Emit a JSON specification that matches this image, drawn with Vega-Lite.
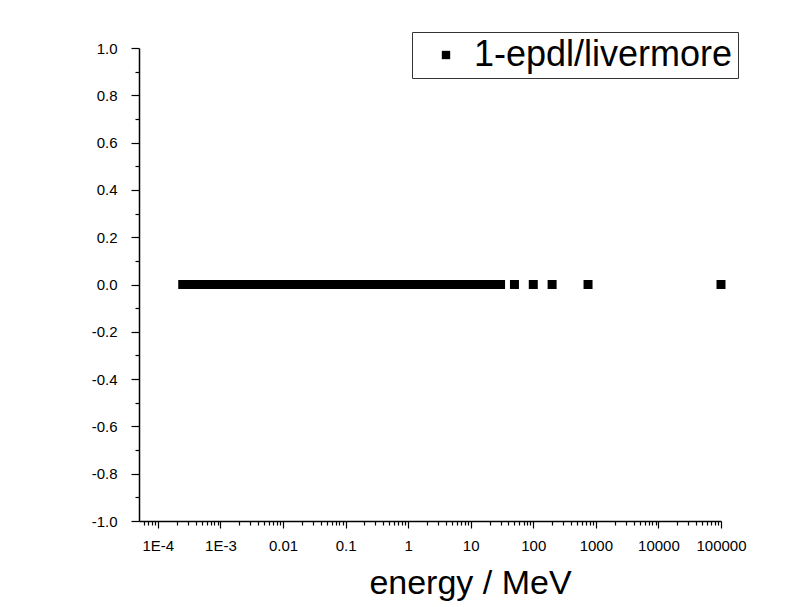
{
  "$schema": "https://vega.github.io/schema/vega-lite/v6.json",
  "width": 582,
  "height": 473,
  "autosize": {"type": "none"},
  "padding": {"left": 139, "top": 48, "right": 80, "bottom": 86},
  "background": "white",
  "config": {
    "font": "Liberation Sans",
    "view": {"stroke": null},
    "axis": {"grid": false, "domainColor": "black", "tickColor": "black", "labelColor": "black", "titleColor": "black", "labelFont": "Liberation Sans", "titleFont": "Liberation Sans", "domainWidth": 1.5, "tickWidth": 1.2}
  },
  "data": {"values": [
    {"energy": 0.00025, "value": 0, "series": "1-epdl/livermore"},
    {"energy": 0.0003, "value": 0, "series": "1-epdl/livermore"},
    {"energy": 0.00035, "value": 0, "series": "1-epdl/livermore"},
    {"energy": 0.0004, "value": 0, "series": "1-epdl/livermore"},
    {"energy": 0.00045, "value": 0, "series": "1-epdl/livermore"},
    {"energy": 0.0005, "value": 0, "series": "1-epdl/livermore"},
    {"energy": 0.00055, "value": 0, "series": "1-epdl/livermore"},
    {"energy": 0.0006, "value": 0, "series": "1-epdl/livermore"},
    {"energy": 0.0007, "value": 0, "series": "1-epdl/livermore"},
    {"energy": 0.0008, "value": 0, "series": "1-epdl/livermore"},
    {"energy": 0.0009, "value": 0, "series": "1-epdl/livermore"},
    {"energy": 0.001, "value": 0, "series": "1-epdl/livermore"},
    {"energy": 0.0011, "value": 0, "series": "1-epdl/livermore"},
    {"energy": 0.0012, "value": 0, "series": "1-epdl/livermore"},
    {"energy": 0.0014, "value": 0, "series": "1-epdl/livermore"},
    {"energy": 0.0016, "value": 0, "series": "1-epdl/livermore"},
    {"energy": 0.0018, "value": 0, "series": "1-epdl/livermore"},
    {"energy": 0.002, "value": 0, "series": "1-epdl/livermore"},
    {"energy": 0.0025, "value": 0, "series": "1-epdl/livermore"},
    {"energy": 0.003, "value": 0, "series": "1-epdl/livermore"},
    {"energy": 0.0035, "value": 0, "series": "1-epdl/livermore"},
    {"energy": 0.004, "value": 0, "series": "1-epdl/livermore"},
    {"energy": 0.005, "value": 0, "series": "1-epdl/livermore"},
    {"energy": 0.006, "value": 0, "series": "1-epdl/livermore"},
    {"energy": 0.007, "value": 0, "series": "1-epdl/livermore"},
    {"energy": 0.008, "value": 0, "series": "1-epdl/livermore"},
    {"energy": 0.009, "value": 0, "series": "1-epdl/livermore"},
    {"energy": 0.01, "value": 0, "series": "1-epdl/livermore"},
    {"energy": 0.012, "value": 0, "series": "1-epdl/livermore"},
    {"energy": 0.015, "value": 0, "series": "1-epdl/livermore"},
    {"energy": 0.02, "value": 0, "series": "1-epdl/livermore"},
    {"energy": 0.025, "value": 0, "series": "1-epdl/livermore"},
    {"energy": 0.03, "value": 0, "series": "1-epdl/livermore"},
    {"energy": 0.04, "value": 0, "series": "1-epdl/livermore"},
    {"energy": 0.05, "value": 0, "series": "1-epdl/livermore"},
    {"energy": 0.06, "value": 0, "series": "1-epdl/livermore"},
    {"energy": 0.08, "value": 0, "series": "1-epdl/livermore"},
    {"energy": 0.1, "value": 0, "series": "1-epdl/livermore"},
    {"energy": 0.12, "value": 0, "series": "1-epdl/livermore"},
    {"energy": 0.15, "value": 0, "series": "1-epdl/livermore"},
    {"energy": 0.2, "value": 0, "series": "1-epdl/livermore"},
    {"energy": 0.25, "value": 0, "series": "1-epdl/livermore"},
    {"energy": 0.3, "value": 0, "series": "1-epdl/livermore"},
    {"energy": 0.4, "value": 0, "series": "1-epdl/livermore"},
    {"energy": 0.5, "value": 0, "series": "1-epdl/livermore"},
    {"energy": 0.6, "value": 0, "series": "1-epdl/livermore"},
    {"energy": 0.8, "value": 0, "series": "1-epdl/livermore"},
    {"energy": 1, "value": 0, "series": "1-epdl/livermore"},
    {"energy": 1.25, "value": 0, "series": "1-epdl/livermore"},
    {"energy": 1.5, "value": 0, "series": "1-epdl/livermore"},
    {"energy": 2, "value": 0, "series": "1-epdl/livermore"},
    {"energy": 2.5, "value": 0, "series": "1-epdl/livermore"},
    {"energy": 3, "value": 0, "series": "1-epdl/livermore"},
    {"energy": 4, "value": 0, "series": "1-epdl/livermore"},
    {"energy": 5, "value": 0, "series": "1-epdl/livermore"},
    {"energy": 6, "value": 0, "series": "1-epdl/livermore"},
    {"energy": 8, "value": 0, "series": "1-epdl/livermore"},
    {"energy": 10, "value": 0, "series": "1-epdl/livermore"},
    {"energy": 12, "value": 0, "series": "1-epdl/livermore"},
    {"energy": 15, "value": 0, "series": "1-epdl/livermore"},
    {"energy": 20, "value": 0, "series": "1-epdl/livermore"},
    {"energy": 25, "value": 0, "series": "1-epdl/livermore"},
    {"energy": 30, "value": 0, "series": "1-epdl/livermore"},
    {"energy": 50, "value": 0, "series": "1-epdl/livermore"},
    {"energy": 100, "value": 0, "series": "1-epdl/livermore"},
    {"energy": 200, "value": 0, "series": "1-epdl/livermore"},
    {"energy": 750, "value": 0, "series": "1-epdl/livermore"},
    {"energy": 100000, "value": 0, "series": "1-epdl/livermore"}
  ]},
  "layer": [
    {
      "mark": {"type": "square", "size": 81, "opacity": 1, "filled": true},
      "encoding": {
        "x": {"field": "energy", "type": "quantitative",
          "scale": {"type": "log", "domain": [0.00005, 100000], "nice": false},
          "axis": {"orient": "bottom", "values": [0.0001, 0.001, 0.01, 0.1, 1, 10, 100, 1000, 10000, 100000],
            "labelExpr": "datum.value < 0.0005 ? '1E-4' : (datum.value < 0.005 ? '1E-3' : format(datum.value, '~g'))",
            "labelFontSize": 15, "labelPadding": 10, "tickSize": 7, "labelFlush": false, "labelOverlap": false,
            "title": "energy / MeV", "titleFontSize": 34, "titleFontWeight": "normal", "titleX": 331, "titleY": 72, "titleBaseline": "alphabetic", "titleAnchor": "middle"}},
        "y": {"field": "value", "type": "quantitative",
          "scale": {"domain": [-1, 1], "nice": false, "zero": false},
          "axis": {"orient": "left", "values": [-1, -0.8, -0.6, -0.4, -0.2, 0, 0.2, 0.4, 0.6, 0.8, 1],
            "labelExpr": "(datum.value < 0 ? '-' : '') + format(abs(datum.value), '.1f')",
            "labelFontSize": 15, "labelPadding": 14, "tickSize": 8, "labelFlush": false, "labelOverlap": false, "title": null}},
        "color": {"field": "series", "type": "nominal", "scale": {"range": ["black"]},
          "legend": {"orient": "none", "legendX": 273, "legendY": -16, "title": null, "symbolType": "square", "symbolSize": 70,
            "labelFontSize": 36, "labelFont": "Liberation Sans", "labelColor": "black", "labelLimit": 400,
            "strokeColor": "#333333", "fillColor": "white", "padding": 5, "symbolOffset": 11, "labelOffset": 10, "symbolStrokeWidth": 0}}
      }
    },
    {
      "mark": {"type": "square", "size": 81, "opacity": 0},
      "encoding": {
        "x": {"field": "energy", "type": "quantitative",
          "axis": {"orient": "bottom", "values": [0.00006, 0.00007, 0.00008, 0.00009,
            0.0002, 0.0003, 0.0004, 0.0005, 0.0006, 0.0007, 0.0008, 0.0009,
            0.002, 0.003, 0.004, 0.005, 0.006, 0.007, 0.008, 0.009,
            0.02, 0.03, 0.04, 0.05, 0.06, 0.07, 0.08, 0.09,
            0.2, 0.3, 0.4, 0.5, 0.6, 0.7, 0.8, 0.9,
            2, 3, 4, 5, 6, 7, 8, 9,
            20, 30, 40, 50, 60, 70, 80, 90,
            200, 300, 400, 500, 600, 700, 800, 900,
            2000, 3000, 4000, 5000, 6000, 7000, 8000, 9000,
            20000, 30000, 40000, 50000, 60000, 70000, 80000, 90000],
            "labels": false, "domain": false, "tickSize": 4, "title": null}},
        "y": {"field": "value", "type": "quantitative",
          "axis": {"orient": "left", "values": [-0.9, -0.7, -0.5, -0.3, -0.1, 0.1, 0.3, 0.5, 0.7, 0.9],
            "labels": false, "domain": false, "tickSize": 4, "title": null}}
      }
    }
  ],
  "resolve": {"axis": {"x": "independent", "y": "independent"}}
}
